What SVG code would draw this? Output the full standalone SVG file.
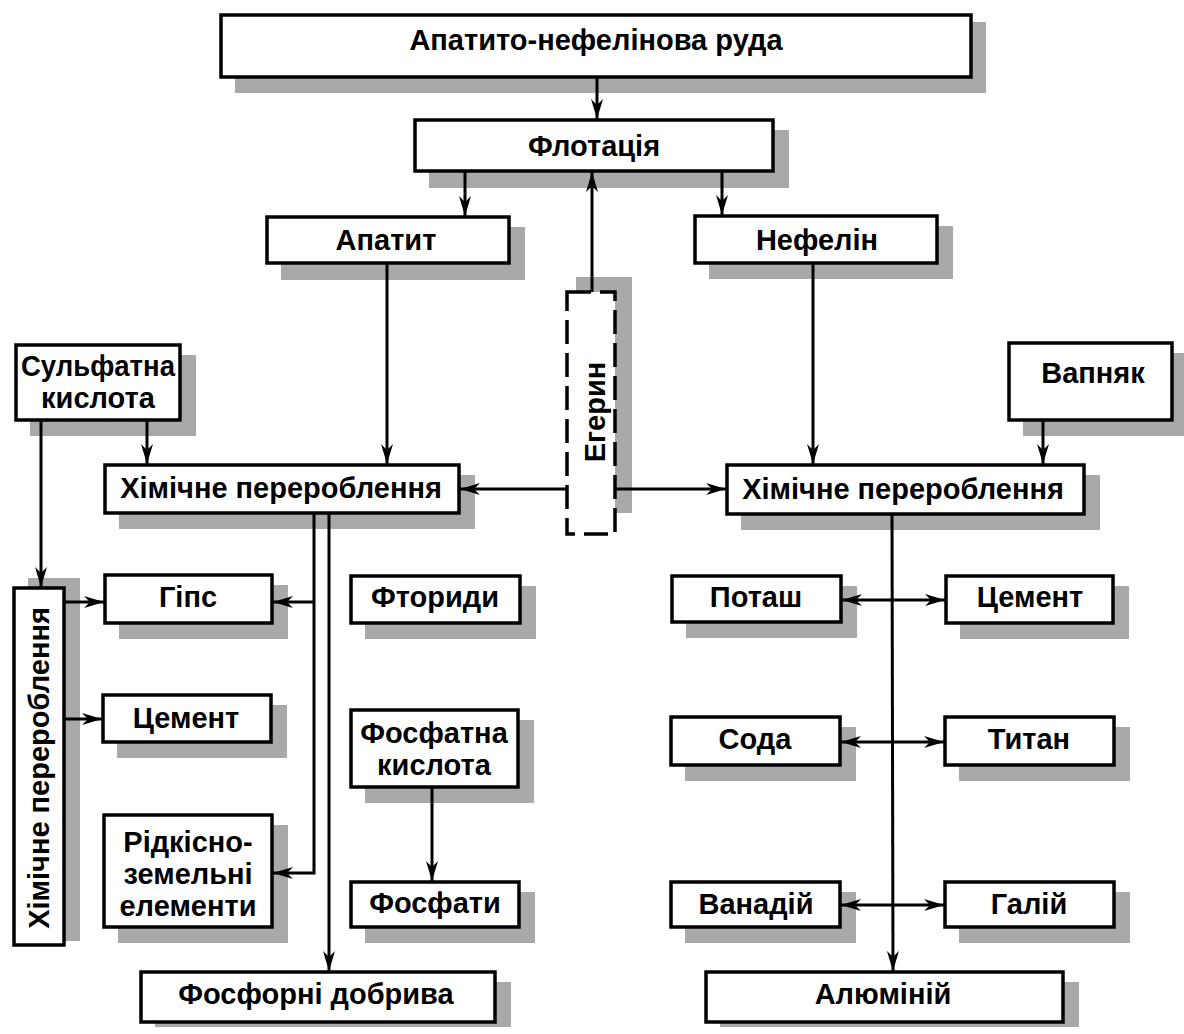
<svg xmlns="http://www.w3.org/2000/svg" width="1184" height="1034" viewBox="0 0 1184 1034">
<defs>
<style>
.sh{fill:#a9a9a9}
.bx{fill:#fff;stroke:#000;stroke-width:3.5}
.dbx{fill:#fff;stroke:#000;stroke-width:3.5;stroke-dasharray:24 9}
.t{font-family:"Liberation Sans",Arial,sans-serif;font-size:29px;font-weight:bold;text-anchor:middle;fill:#000}
.c{fill:none;stroke:#000;stroke-width:3}
.a{marker-end:url(#ah)}
.aa{marker-end:url(#ah);marker-start:url(#ah)}
</style>
<marker id="ah" viewBox="0 0 20 12" refX="20" refY="6" markerWidth="20" markerHeight="12" markerUnits="userSpaceOnUse" orient="auto-start-reverse">
<path d="M0,0 L20,6 L0,12 L6,6 z" fill="#000"/>
</marker>
</defs>
<rect width="1184" height="1034" fill="#fff"/>

<g id="n-ore"><rect class="sh" x="235" y="22" width="751" height="71"/><rect class="bx" x="221" y="15" width="750" height="62"/><text class="t" x="596" y="50">Апатито-нефелінова руда</text></g>
<g id="n-flot"><rect class="sh" x="429" y="130" width="360" height="58"/><rect class="bx" x="415" y="120" width="358" height="51"/><text class="t" x="594" y="156">Флотація</text></g>
<g id="n-apatit"><rect class="sh" x="281" y="227" width="244" height="53"/><rect class="bx" x="267" y="217" width="242" height="46"/><text class="t" x="386" y="250">Апатит</text></g>
<g id="n-nefelin"><rect class="sh" x="709" y="226" width="244" height="53"/><rect class="bx" x="695" y="216" width="242" height="47"/><text class="t" x="817" y="250">Нефелін</text></g>
<g id="n-egerin"><rect class="sh" x="576" y="277" width="56" height="236"/><rect class="dbx" x="567" y="292" width="48" height="242"/><text class="t" transform="translate(605,412) rotate(-90)">Егерин</text></g>
<g id="n-sulf"><rect class="sh" x="30" y="355" width="166" height="81"/><rect class="bx" x="16" y="345" width="164" height="75"/><text class="t" x="98" y="376" textLength="154" lengthAdjust="spacingAndGlyphs">Сульфатна</text><text class="t" x="98" y="408">кислота</text></g>
<g id="n-vapn"><rect class="sh" x="1023" y="353" width="165" height="83"/><rect class="bx" x="1009" y="343" width="163" height="77"/><text class="t" x="1093" y="383">Вапняк</text></g>
<g id="n-chemL"><rect class="sh" x="119" y="475" width="356" height="54"/><rect class="bx" x="105" y="465" width="354" height="48"/><text class="t" x="281" y="498">Хімічне перероблення</text></g>
<g id="n-chemR"><rect class="sh" x="741" y="475" width="359" height="55"/><rect class="bx" x="727" y="465" width="357" height="49"/><text class="t" x="903" y="499">Хімічне перероблення</text></g>
<g id="n-chemV"><rect class="sh" x="28" y="578" width="52" height="363"/><rect class="bx" x="14" y="588" width="50" height="357"/><text class="t" transform="translate(49,768) rotate(-90)">Хімічне перероблення</text></g>
<g id="n-gips"><rect class="sh" x="119" y="585" width="169" height="54"/><rect class="bx" x="105" y="575" width="167" height="48"/><text class="t" x="188" y="607">Гіпс</text></g>
<g id="n-ftor"><rect class="sh" x="365" y="586" width="171" height="53"/><rect class="bx" x="351" y="576" width="169" height="47"/><text class="t" x="435" y="607">Фториди</text></g>
<g id="n-cemL"><rect class="sh" x="117" y="705" width="170" height="53"/><rect class="bx" x="103" y="695" width="168" height="47"/><text class="t" x="186" y="728">Цемент</text></g>
<g id="n-rare"><rect class="sh" x="118" y="825" width="170" height="118"/><rect class="bx" x="104" y="815" width="168" height="112"/><text class="t" x="188" y="852">Рідкісно-</text><text class="t" x="188" y="884">земельні</text><text class="t" x="188" y="916">елементи</text></g>
<g id="n-fosfk"><rect class="sh" x="365" y="720" width="169" height="83"/><rect class="bx" x="351" y="710" width="167" height="77"/><text class="t" x="434" y="743">Фосфатна</text><text class="t" x="434" y="775">кислота</text></g>
<g id="n-fosfati"><rect class="sh" x="365" y="892" width="170" height="51"/><rect class="bx" x="351" y="882" width="168" height="45"/><text class="t" x="435" y="913">Фосфати</text></g>
<g id="n-fosfd"><rect class="sh" x="155" y="982" width="356" height="45"/><rect class="bx" x="141" y="972" width="354" height="50"/><text class="t" x="316" y="1004">Фосфорні добрива</text></g>
<g id="n-potash"><rect class="sh" x="686" y="586" width="171" height="52"/><rect class="bx" x="672" y="576" width="169" height="46"/><text class="t" x="756" y="607">Поташ</text></g>
<g id="n-cemR"><rect class="sh" x="960" y="586" width="169" height="53"/><rect class="bx" x="946" y="576" width="167" height="47"/><text class="t" x="1030" y="607">Цемент</text></g>
<g id="n-soda"><rect class="sh" x="685" y="727" width="171" height="54"/><rect class="bx" x="671" y="717" width="169" height="48"/><text class="t" x="755" y="749">Сода</text></g>
<g id="n-titan"><rect class="sh" x="959" y="727" width="171" height="54"/><rect class="bx" x="945" y="717" width="169" height="48"/><text class="t" x="1029" y="749">Титан</text></g>
<g id="n-vanad"><rect class="sh" x="685" y="892" width="171" height="51"/><rect class="bx" x="671" y="882" width="169" height="45"/><text class="t" x="756" y="914">Ванадій</text></g>
<g id="n-galiy"><rect class="sh" x="959" y="892" width="171" height="51"/><rect class="bx" x="945" y="882" width="169" height="45"/><text class="t" x="1029" y="914">Галій</text></g>
<g id="n-alum"><rect class="sh" x="720" y="982" width="359" height="45"/><rect class="bx" x="706" y="972" width="357" height="50"/><text class="t" x="883" y="1004">Алюміній</text></g>

<g id="connectors">
<line class="c a" x1="597" y1="78" x2="597" y2="119"/>
<line class="c a" x1="465" y1="172" x2="465" y2="216"/>
<line class="c a" x1="722" y1="172" x2="722" y2="215"/>
<line class="c a" x1="592" y1="292" x2="592" y2="172"/>
<line class="c a" x1="387" y1="264" x2="387" y2="464"/>
<line class="c a" x1="813" y1="264" x2="813" y2="464"/>
<line class="c a" x1="147" y1="421" x2="147" y2="464"/>
<line class="c a" x1="41" y1="421" x2="41" y2="587"/>
<line class="c a" x1="1043" y1="421" x2="1043" y2="464"/>
<line class="c a" x1="567" y1="489" x2="460" y2="489"/>
<line class="c a" x1="615" y1="489" x2="726" y2="489"/>
<polyline class="c a" points="314,514 314,873 273,873"/>
<line class="c a" x1="314" y1="602" x2="273" y2="602"/>
<line class="c a" x1="329" y1="514" x2="329" y2="971"/>
<line class="c a" x1="65" y1="602" x2="104" y2="602"/>
<line class="c a" x1="65" y1="719" x2="102" y2="719"/>
<line class="c a" x1="432" y1="788" x2="432" y2="881"/>
<line class="c a" x1="892" y1="515" x2="893" y2="971"/>
<line class="c aa" x1="842" y1="600" x2="945" y2="600"/>
<line class="c aa" x1="841" y1="742" x2="944" y2="742"/>
<line class="c aa" x1="841" y1="905" x2="944" y2="905"/>
</g>
</svg>
